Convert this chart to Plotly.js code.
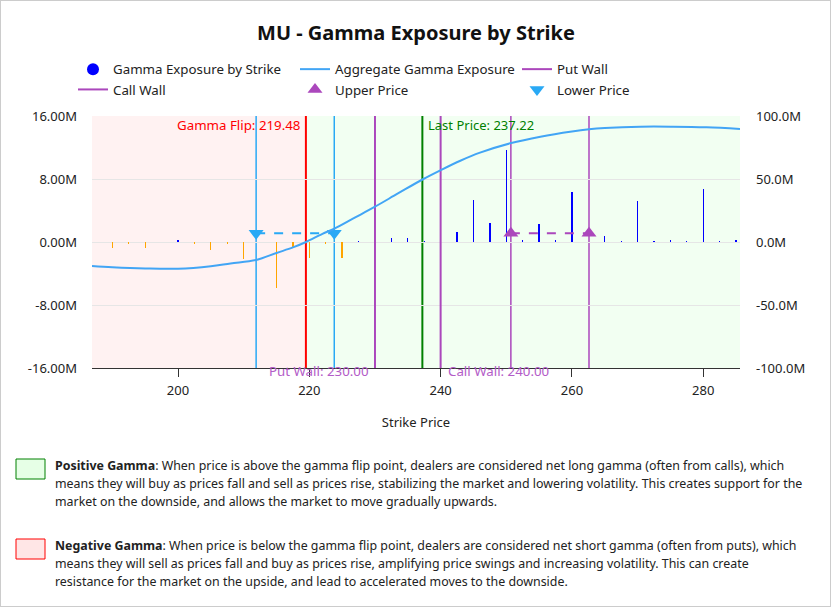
<!DOCTYPE html>
<html>
<head>
<meta charset="utf-8">
<script src="https://cdn.plot.ly/plotly-3.0.1.min.js"></script>
<style>
  body { margin: 0; background: #fff; }
  #chart { width: 831px; height: 607px; box-sizing: border-box; border: 1px solid #ccc; }
</style>
</head>
<body>
<div id="chart"></div>
<script>
// strikes and gamma exposure per strike (in millions)
const strikes = [190, 192.5, 195, 197.5, 200, 202.5, 205, 207.5, 210, 212.5, 215, 217.5, 220, 222.5,
  225, 227.5, 230, 232.5, 235, 237.5, 240, 242.5, 245, 247.5, 250, 252.5, 255, 257.5, 260, 262.5,
  265, 267.5, 270, 272.5, 275, 277.5, 280, 282.5, 285];
const gexM = [-0.72, -0.25, -0.76, 0, 0.2, -0.2, -1.0, -0.2, -2.15, 0, -5.9, -0.6, -2.0, -0.2,
  -2.0, 0.1, 0, 0.5, 0.5, 0.13, 0, 1.3, 5.33, 2.45, 11.7, 0.2, 2.3, 0.2, 6.35, 0,
  0.76, 0.12, 5.2, 0.12, 0.25, 0.12, 6.7, 0.12, 0.2];

// aggregate gamma exposure curve (in millions, right axis)
const aggStrikes = [186.9, 190, 195, 200, 205, 208, 211.9, 215, 217.5, 219.5, 222, 223.8, 227, 230,
  233.5, 237.3, 240, 243, 246, 250.6, 255.2, 260, 262.6, 265, 270.4, 275.4, 280.5, 285.6];
const aggM = [-19.0, -20.0, -21.0, -21.2, -19.2, -17.0, -14.3, -8.7, -4.3, 0, 6.5, 10.5, 19.5, 28,
  38.5, 49.8, 57, 64.5, 70.9, 78.3, 83.6, 87.7, 89.4, 90.4, 91.5, 91.5, 91.0, 89.7];

// key levels
const gammaFlip = 219.48;
const lastPrice = 237.22;
const putWall = 230.0;
const callWall = 240.0;
const lowerPrice = [211.9, 223.8];
const upperPrice = [250.7, 262.6];
const markerLevelM = 1.1;

const xRange = [186.9, 285.6];
const leftTickVals = [-16e6, -8e6, 0, 8e6, 16e6];
const leftTickText = ['-16.00M', '-8.00M', '0.00M', '8.00M', '16.00M'];
const rightTickVals = [-100e6, -50e6, 0, 50e6, 100e6];
const rightTickText = ['-100.0M', '-50.0M', '0.0M', '50.0M', '100.0M'];

// explanation text, one entry per printed line
const posLines = [
  '<b>Positive Gamma</b>: When price is above the gamma flip point, dealers are considered net long gamma (often from calls), which',
  'means they will buy as prices fall and sell as prices rise, stabilizing the market and lowering volatility. This creates support for the',
  'market on the downside, and allows the market to move gradually upwards.'
];
const negLines = [
  '<b>Negative Gamma</b>: When price is below the gamma flip point, dealers are considered net short gamma (often from puts), which',
  'means they will sell as prices fall and buy as prices rise, amplifying price swings and increasing volatility. This can create',
  'resistance for the market on the upside, and lead to accelerated moves to the downside.'
];

const blue = '#0000ff', orange = '#ffa500', sky = '#42a5f5', lightBlue = '#29a9f5',
      purple = '#ab47bc', green = '#008000', red = '#ff0000';

// page pixel -> paper coords (plot area 92..740 x, 116..368 y)
const px = x => (x - 92) / 648;
const py = y => (368 - y) / 252;

const gex = gexM.map(v => v * 1e6);
const agg = aggM.map(v => v * 1e6);
const barColors = gex.map(v => v >= 0 ? blue : orange);
const yMin = leftTickVals[0], yMax = leftTickVals[leftTickVals.length - 1];

const traces = [
  {
    type: 'bar', x: strikes, y: gex, width: 0.2,
    marker: { color: barColors, line: { color: barColors, width: 0 } },
    name: 'Gamma Exposure by Strike', showlegend: false
  },
  {
    // legend entry for the bars
    type: 'scatter', mode: 'markers', x: [null], y: [null],
    marker: { color: blue, size: 12 },
    name: 'Gamma Exposure by Strike'
  },
  {
    type: 'scatter', mode: 'lines', x: aggStrikes, y: agg, yaxis: 'y2',
    line: { color: sky, width: 2, shape: 'spline', smoothing: 1 },
    name: 'Aggregate Gamma Exposure'
  },
  {
    type: 'scatter', mode: 'lines', x: [putWall, putWall], y: [yMin, yMax],
    line: { color: purple, width: 2 }, name: 'Put Wall'
  },
  {
    type: 'scatter', mode: 'lines', x: [callWall, callWall], y: [yMin, yMax],
    line: { color: purple, width: 2 }, name: 'Call Wall'
  },
  {
    type: 'scatter', mode: 'lines', x: upperPrice, y: upperPrice.map(() => markerLevelM * 1e6),
    line: { color: purple, width: 2, dash: 'dash' }, showlegend: false
  },
  {
    type: 'scatter', mode: 'markers', x: upperPrice, y: upperPrice.map(() => markerLevelM * 1e6),
    marker: { color: purple, size: 13, symbol: 'triangle-up' }, name: 'Upper Price'
  },
  {
    type: 'scatter', mode: 'lines', x: lowerPrice, y: lowerPrice.map(() => markerLevelM * 1e6),
    line: { color: lightBlue, width: 2, dash: 'dash' }, showlegend: false
  },
  {
    type: 'scatter', mode: 'markers', x: lowerPrice, y: lowerPrice.map(() => markerLevelM * 1e6),
    marker: { color: lightBlue, size: 13, symbol: 'triangle-down' }, name: 'Lower Price'
  }
];

function vline(x, color, width) {
  return { type: 'line', xref: 'x', yref: 'paper', x0: x, x1: x, y0: 0, y1: 1,
           line: { color: color, width: width }, layer: 'below' };
}

const shapes = [
  // negative / positive gamma zones
  { type: 'rect', xref: 'x', yref: 'paper', x0: xRange[0], x1: gammaFlip, y0: 0, y1: 1,
    fillcolor: 'rgba(255,0,0,0.05)', line: { width: 0 }, layer: 'below' },
  { type: 'rect', xref: 'x', yref: 'paper', x0: gammaFlip, x1: xRange[1], y0: 0, y1: 1,
    fillcolor: 'rgba(0,255,0,0.05)', line: { width: 0 }, layer: 'below' },
  vline(lowerPrice[0], lightBlue, 1.5),
  vline(lowerPrice[1], lightBlue, 1.5),
  vline(upperPrice[0], purple, 1.5),
  vline(upperPrice[1], purple, 1.5),
  vline(gammaFlip, red, 2),
  vline(lastPrice, green, 2),
  // explanation swatches
  { type: 'rect', xref: 'paper', yref: 'paper', x0: px(16), x1: px(45), y0: py(459), y1: py(479),
    fillcolor: '#e6ffe6', line: { color: green, width: 1 } },
  { type: 'rect', xref: 'paper', yref: 'paper', x0: px(16), x1: px(45), y0: py(539), y1: py(559),
    fillcolor: '#ffe6e6', line: { color: red, width: 1 } }
];

const annotations = [
  { x: gammaFlip, y: py(125), xref: 'x', yref: 'paper', xanchor: 'right', yanchor: 'middle', xshift: -4,
    text: `Gamma Flip: ${gammaFlip.toFixed(2)}`, showarrow: false, font: { color: red, size: 13.3 } },
  { x: lastPrice, y: py(125), xref: 'x', yref: 'paper', xanchor: 'left', yanchor: 'middle', xshift: 4,
    text: `Last Price: ${lastPrice.toFixed(2)}`, showarrow: false, font: { color: green, size: 13 } },
  { x: putWall, y: py(371), xref: 'x', yref: 'paper', xanchor: 'right', yanchor: 'middle', xshift: -4,
    text: `Put Wall: ${putWall.toFixed(2)}`, showarrow: false, font: { color: '#b35cc8', size: 13.3 } },
  { x: callWall, y: py(371), xref: 'x', yref: 'paper', xanchor: 'left', yanchor: 'middle', xshift: 5,
    text: `Call Wall: ${callWall.toFixed(2)}`, showarrow: false, font: { color: '#b35cc8', size: 13.3 } }
];

// paragraph lines, 18px apart
function addLines(lines, firstY) {
  lines.forEach((t, i) => {
    annotations.push({ x: px(53), y: py(firstY + i * 18), xref: 'paper', yref: 'paper',
      xanchor: 'left', yanchor: 'middle', align: 'left', text: t, showarrow: false,
      font: { size: 12.4, color: '#222' } });
  });
}
addLines(posLines, 465);
addLines(negLines, 545);

const layout = {
  width: 829, height: 605,
  margin: { l: 91, r: 90, t: 115, b: 238, pad: 0 },
  font: { family: 'Noto Sans, sans-serif', size: 13, color: '#222' },
  paper_bgcolor: 'white', plot_bgcolor: 'white',
  title: { text: '<b>MU - Gamma Exposure by Strike</b>', x: 0.5, xref: 'paper', y: 1 - 32 / 605, yanchor: 'middle',
           font: { size: 20, color: '#111' } },
  showlegend: true,
  legend: { orientation: 'h', x: px(73), xanchor: 'left', y: py(54), yanchor: 'top',
            entrywidth: 177, font: { size: 13.3 }, bgcolor: 'rgba(0,0,0,0)' },
  bargap: 0,
  xaxis: {
    range: xRange, showgrid: false, zeroline: false,
    showline: true, linecolor: '#333', linewidth: 1,
    ticks: 'outside', ticklen: 8, tickcolor: '#333', ticklabelstandoff: 2,
    tickvals: [200, 220, 240, 260, 280],
    title: { text: 'Strike Price', font: { size: 13 }, standoff: 20 }
  },
  yaxis: {
    range: [yMin, yMax], tickvals: leftTickVals, ticktext: leftTickText,
    showgrid: true, gridcolor: '#e6e6e6', zeroline: false, showline: false,
    ticklabelstandoff: 14
  },
  yaxis2: {
    range: [rightTickVals[0], rightTickVals[rightTickVals.length - 1]],
    tickvals: rightTickVals, ticktext: rightTickText,
    overlaying: 'y', side: 'right', showgrid: false, zeroline: false, showline: false,
    ticklabelstandoff: 15
  },
  shapes: shapes,
  annotations: annotations
};

Plotly.newPlot('chart', traces, layout, { displayModeBar: false, staticPlot: true });
</script>
</body>
</html>
